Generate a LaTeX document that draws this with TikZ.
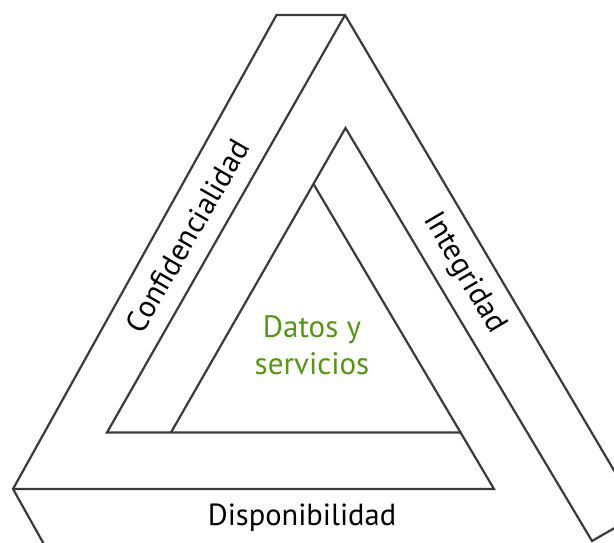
\documentclass[tikz,border=0pt]{standalone}
\usepackage{fontspec}
\setmainfont{PT Sans}
\definecolor{linegray}{RGB}{58,58,58}
\definecolor{datagreen}{RGB}{86,150,20}
\begin{document}
\begin{tikzpicture}[x=1pt,y=-1pt,
  bar/.style={draw=linegray,line width=2.2pt,line join=miter},
  lbl/.style={font=\fontsize{30.5}{34}\selectfont,text=black,inner sep=0pt}]
\useasboundingbox (0,0) rectangle (614,543);
\clip (0,0) rectangle (614,543);
% corner points
\coordinate (A) at (276.5,15);
\coordinate (B) at (345,15);
\coordinate (C) at (13,489);
\coordinate (D) at (494,489);
\coordinate (E) at (107,432.5);
\coordinate (F) at (171,432.5);
\coordinate (G) at (461,432.5);
\coordinate (H) at (313.5,184);
\coordinate (P) at (345.5,128);
\coordinate (Q) at (592,541);
% points outside the frame, where the bars run on
\coordinate (X1) at (50,555);
\coordinate (X2) at (625,489);
\coordinate (X3) at (625,522);
% bars
\draw[bar] (X1) -- (C) -- (A) -- (B) -- (X2);
\draw[bar] (C) -- (D) -- (H);
\draw[bar] (B) -- (E) -- (G);
\draw[bar] (F) -- (P) -- (Q) -- (X3);
% labels
\node[lbl,rotate=60] (conf) at (187,236) {Confidencialidad};
\node[lbl,rotate=-59.5] (integ) at (464,273) {Integridad};
\node[lbl] (disp) at (302,518) {Disponibilidad};
\node[lbl,text=datagreen,align=center,font=\fontsize{31}{37}\selectfont] (datos) at (312,345) {Datos y\\servicios};
\end{tikzpicture}
\end{document}
